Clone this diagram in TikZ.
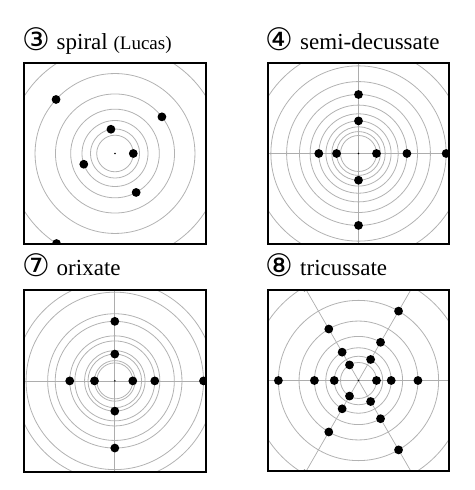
\documentclass[tikz,border=0pt]{standalone}
\usepackage{fontspec}
\setmainfont{Liberation Serif}
\newfontfamily\circfont{DejaVu Sans}
\newcommand{\cdig}[1]{{\circfont\fontsize{31}{31}\selectfont\raisebox{-0.5pt}{#1}}}
\begin{document}
\begin{tikzpicture}[x=1pt,y=1pt,
  ring/.style={draw=black!30, line width=0.8pt},
  axisline/.style={draw=black!32, line width=0.7pt},
  frame/.style={draw=black, line width=1.8pt},
  leaf/.style={circle, fill=black, inner sep=0pt, minimum size=8.8pt},
  ctr/.style={circle, fill=black, inner sep=0pt, minimum size=1.8pt},
  ttl/.style={anchor=base west, inner sep=0pt, font=\fontsize{23}{23}\selectfont}]
\useasboundingbox (0,0) rectangle (474,490);
\def\hb{90.8}
% ---------- panel 3: spiral ----------
\begin{scope}[shift={(115,336.5)}]
  \node[ttl] (t3) at (-93,103.5) {\cdig{③}\hspace{1pt} spiral {\fontsize{19}{19}\selectfont (Lucas)}};
  \begin{scope}
    \clip (-\hb,-\hb) rectangle (\hb,\hb);
    \foreach \n in {0,...,6} \draw[ring] (0,0) circle ({18.3*1.343^\n});
    \foreach \n in {0,...,6} \node[leaf] (a\n) at ({99.5*\n}:{18.3*1.343^\n}) {};
  \end{scope}
  \node[ctr] (ca) at (0,0) {};
  \draw[frame] (-\hb,-\hb) rectangle (\hb,\hb);
\end{scope}
% ---------- panel 4: semi-decussate ----------
\begin{scope}[shift={(358.5,336.5)}]
  \node[ttl] (t4) at (-93,103.5) {\cdig{④}\hspace{1pt} semi-decussate};
  \begin{scope}
    \clip (-\hb,-\hb) rectangle (\hb,\hb);
    \foreach \n in {0,...,10} \draw[ring] (0,0) circle ({18*1.2188^\n});
    \draw[axisline] (-\hb,0) -- (\hb,0);
    \draw[axisline] (0,-\hb) -- (0,\hb);
    \foreach \a [count=\i from 0] in {0,180,270,90,180,0,90,270,0}
      \node[leaf] (b\i) at (\a:{18*1.2188^\i}) {};
  \end{scope}
  \node[ctr] (cb) at (0,0) {};
  \draw[frame] (-\hb,-\hb) rectangle (\hb,\hb);
\end{scope}
% ---------- panel 7: orixate ----------
\begin{scope}[shift={(114.8,109.1)}]
  \node[ttl] (t7) at (-92.8,104.9) {\cdig{⑦}\hspace{1pt} orixate};
  \begin{scope}
    \clip (-\hb,-\hb) rectangle (\hb,\hb);
    \foreach \k in {0,...,4} {
      \draw[ring] (0,0) circle ({18*1.49^\k});
      \draw[ring] (0,0) circle ({20.3*1.49^\k});
    }
    \draw[axisline] (-\hb,0) -- (\hb,0);
    \draw[axisline] (0,-\hb) -- (0,\hb);
    \node[leaf] (c0) at (0:18) {};
    \node[leaf] (c1) at (180:20.3) {};
    \node[leaf] (c2) at (90:{18*1.49}) {};
    \node[leaf] (c3) at (270:{20.3*1.49}) {};
    \node[leaf] (c4) at (0:{18*1.49^2}) {};
    \node[leaf] (c5) at (180:{20.3*1.49^2}) {};
    \node[leaf] (c6) at (90:{18*1.49^3}) {};
    \node[leaf] (c7) at (270:{20.3*1.49^3}) {};
    \node[leaf] (c8) at (0:{18*1.49^4}) {};
  \end{scope}
  \node[ctr] (cc) at (0,0) {};
  \draw[frame] (-\hb,-\hb) rectangle (\hb,\hb);
\end{scope}
% ---------- panel 8: tricussate ----------
\begin{scope}[shift={(358.5,109.5)}]
  \node[ttl] (t8) at (-93,104.5) {\cdig{⑧}\hspace{1pt} tricussate};
  \begin{scope}
    \clip (-\hb,-\hb) rectangle (\hb,\hb);
    \foreach \k in {0,...,6} \draw[ring] (0,0) circle ({18*1.348^\k});
    \foreach \a in {0,60,120} \draw[axisline] (\a:140) -- (\a+180:140);
    \foreach \k in {0,...,6}
      \foreach \j in {0,1,2}
        \node[leaf] (d\k-\j) at ({mod(\k,2)*60+120*\j}:{18*1.348^\k}) {};
  \end{scope}
  \node[ctr] (cd) at (0,0) {};
  \draw[frame] (-\hb,-\hb) rectangle (\hb,\hb);
\end{scope}
\end{tikzpicture}
\end{document}
